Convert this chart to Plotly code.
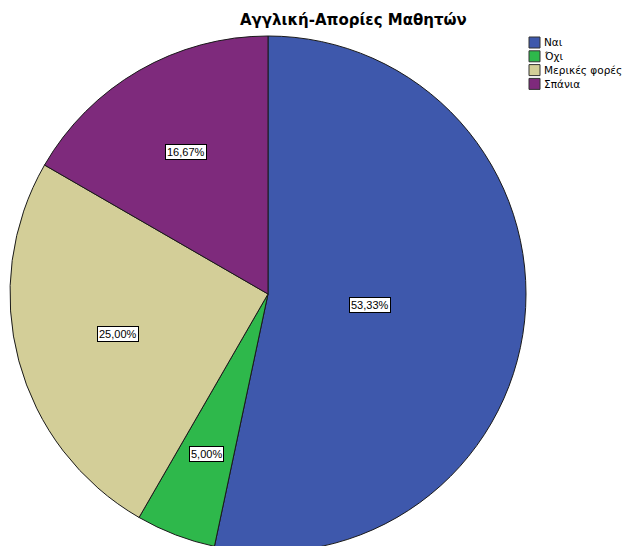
import math
import plotly.graph_objects as go

# Survey answers and their shares (percent)
categories = ["Ναι", "Όχι", "Μερικές φορές", "Σπάνια"]
percentages = [53.33, 5.00, 25.00, 16.67]
colors = ["#3E58AC", "#2EB84B", "#D3CE98", "#7E2A7C"]
title_text = "Αγγλική-Απορίες Μαθητών"

W, H = 623, 560
FONT = "Liberation Sans, Arial, sans-serif"
WIDE_FONT = "DejaVu Sans, Verdana, sans-serif"

# Pie geometry in pixels (centre and radius)
cx, cy, R = 268, 294, 258

fig = go.Figure(
    go.Pie(
        labels=categories,
        values=percentages,
        sort=False,
        direction="clockwise",
        rotation=0,
        marker=dict(colors=colors, line=dict(color="#1a1a1a", width=1)),
        textinfo="none",
        hoverinfo="label+percent",
        showlegend=False,
        domain=dict(
            x=[(cx - R) / W, (cx + R) / W],
            y=[(H - cy - R) / H, (H - cy + R) / H],
        ),
    )
)

annotations = []

# Percentage boxes at each slice's centroid
total = sum(percentages)
start = 0.0
for v in percentages:
    sweep = v / total * 2 * math.pi
    mid = start + sweep / 2
    half = sweep / 2
    r = 2 * R * math.sin(half) / (3 * half)
    px = cx + r * math.sin(mid)
    py = cy - r * math.cos(mid)
    annotations.append(
        dict(
            x=px / W, y=1 - py / H, xref="paper", yref="paper",
            text=f"{v:.2f}%".replace(".", ","),
            showarrow=False,
            font=dict(family=FONT, size=11, color="black"),
            bgcolor="white", bordercolor="black", borderwidth=1, borderpad=1,
            xanchor="center", yanchor="middle",
        )
    )
    start += sweep

# Title
annotations.append(
    dict(
        x=353 / W, y=1 - 20 / H, xref="paper", yref="paper",
        text=f"<b>{title_text}</b>", showarrow=False,
        font=dict(family=WIDE_FONT, size=15, color="black"),
        xanchor="center", yanchor="middle",
    )
)

# Legend: square swatches with labels
shapes = []
row0, step = 42.5, 13.8
for i, (name, col) in enumerate(zip(categories, colors)):
    yc = row0 + i * step
    shapes.append(
        dict(
            type="rect", xref="paper", yref="paper",
            x0=529 / W, x1=540 / W,
            y0=1 - (yc + 5.5) / H, y1=1 - (yc - 5.5) / H,
            fillcolor=col, line=dict(color="#333333", width=1),
        )
    )
    annotations.append(
        dict(
            x=542 / W, y=1 - yc / H, xref="paper", yref="paper",
            text=name, showarrow=False,
            font=dict(family=WIDE_FONT, size=10.5, color="black"),
            xanchor="left", yanchor="middle",
        )
    )

fig.update_layout(
    width=W, height=H,
    margin=dict(l=0, r=0, t=0, b=0),
    paper_bgcolor="white", plot_bgcolor="white",
    annotations=annotations, shapes=shapes,
)

fig.write_html("out.html")
